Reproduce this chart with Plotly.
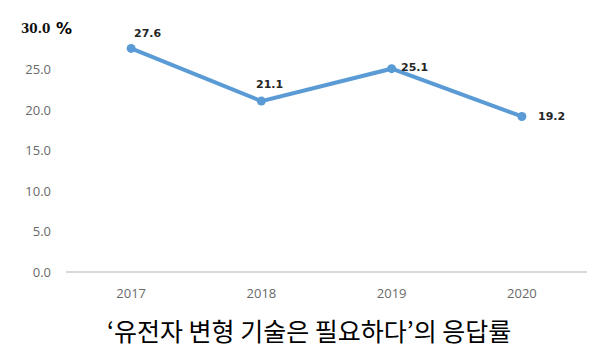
import plotly.graph_objects as go

years = ["2017", "2018", "2019", "2020"]
values = [27.6, 21.1, 25.1, 19.2]
ytick_vals = [0, 5, 10, 15, 20, 25, 30]
ytick_text = ["0.0", "5.0", "10.0", "15.0", "20.0", "25.0", ""]
title_text = "‘유전자 변형 기술은 필요하다’의 응답률"

label_pos = [
    dict(xanchor="left", yanchor="bottom", xshift=1, yshift=6),
    dict(xanchor="left", yanchor="bottom", xshift=-7, yshift=8),
    dict(xanchor="left", yanchor="middle", xshift=7, yshift=1),
    dict(xanchor="left", yanchor="middle", xshift=14, yshift=0),
]

fig = go.Figure()
fig.add_trace(go.Scatter(
    x=years, y=values, mode="lines+markers",
    line=dict(color="#5B9BD5", width=4),
    marker=dict(color="#5B9BD5", size=9),
    hoverinfo="skip",
))

annotations = []
for i, (v, p) in enumerate(zip(values, label_pos)):
    annotations.append(dict(
        x=i, y=v, xref="x", yref="y", text=f"<b>{v:.1f}</b>", showarrow=False,
        font=dict(family="DejaVu Sans", size=11, color="#262626"), **p))

annotations.append(dict(x=0, y=30, xref="paper", yref="y", text="<b>30.0</b>",
                        showarrow=False, xanchor="right", yanchor="middle", xshift=-14,
                        font=dict(family="DejaVu Serif", size=12, color="#111111")))
annotations.append(dict(x=0, y=30, xref="paper", yref="y", text="<b>%</b>",
                        showarrow=False, xanchor="left", yanchor="middle", xshift=-12, yshift=1,
                        font=dict(family="DejaVu Sans", size=16, color="#000000")))
annotations.append(dict(x=0.466, y=0, xref="paper", yref="paper", text=title_text,
                        showarrow=False, xanchor="center", yanchor="middle", yshift=-58,
                        font=dict(family="Noto Sans CJK KR", size=25, color="#000000")))

fig.update_layout(
    width=592, height=348,
    margin=dict(l=58, r=13, t=21, b=84),
    paper_bgcolor="white", plot_bgcolor="white",
    showlegend=False,
    annotations=annotations,
    xaxis=dict(type="category", range=[-0.5, 3.5], showgrid=False, zeroline=False,
               showline=False, ticks="", ticklabelstandoff=12,
               tickfont=dict(family="Open Sans", size=13, color="#6A6A6A")),
    yaxis=dict(range=[0, 30], tickvals=ytick_vals, ticktext=ytick_text,
               showgrid=False, zeroline=True, zerolinecolor="#D9D9D9", zerolinewidth=1.5,
               showline=False, ticks="", ticklabelstandoff=14,
               tickfont=dict(family="Open Sans", size=13, color="#6A6A6A")),
)

fig.write_html("out.html")
